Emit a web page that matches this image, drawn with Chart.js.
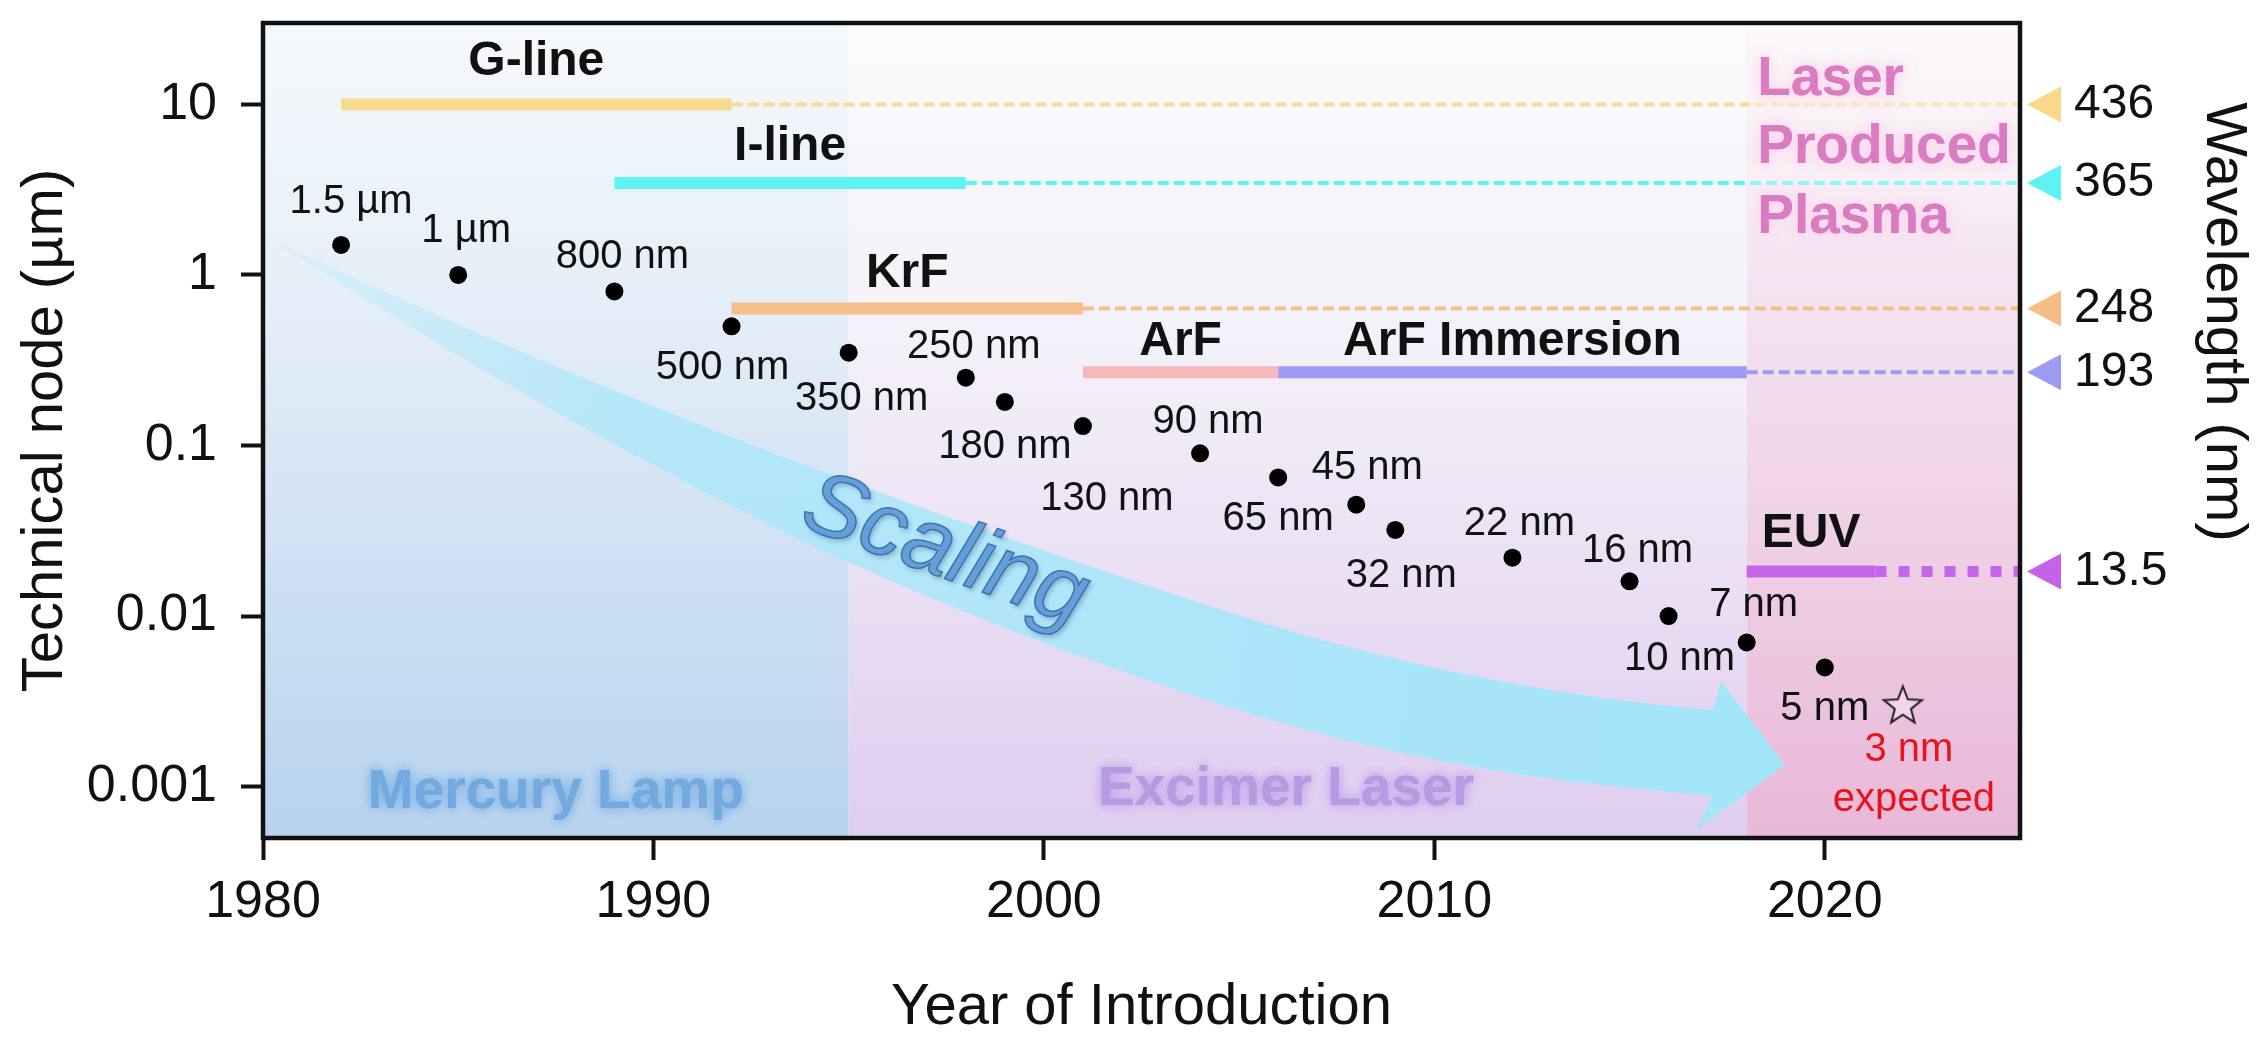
<!DOCTYPE html>
<html>
<head>
<meta charset="utf-8">
<script src="https://cdn.jsdelivr.net/npm/chart.js@4.4.1/dist/chart.umd.min.js"></script>
<style>
html,body{margin:0;padding:0;background:#ffffff;}
#wrap{width:2266px;height:1044px;}
</style>
</head>
<body>
<div id="wrap"><canvas id="c" width="2266" height="1044"></canvas></div>
<script>
// ---------------- DATA ----------------
const nodeYears  = [1982, 1985, 1989, 1992, 1995, 1998, 1999, 2001, 2004, 2006, 2008, 2009, 2012, 2015, 2016, 2018, 2020];
const nodeSizes  = [1.5, 1, 0.8, 0.5, 0.35, 0.25, 0.18, 0.13, 0.09, 0.065, 0.045, 0.032, 0.022, 0.016, 0.01, 0.007, 0.005];
const nodeLabels = ['1.5 µm','1 µm','800 nm','500 nm','350 nm','250 nm','180 nm','130 nm','90 nm','65 nm','45 nm','32 nm','22 nm','16 nm','10 nm','7 nm','5 nm'];

const expectedYears  = [2022];
const expectedSizes  = [0.003];
const expectedLabels = ['3 nm', 'expected'];

const techNames  = ['G-line', 'I-line', 'KrF', 'ArF', 'ArF Immersion', 'EUV'];
const techStart  = [1982, 1989, 1992, 2001, 2006, 2018];
const techEnd    = [1992, 1998, 2001, 2006, 2018, 2021.3];
const techLevel  = [10, 3.46, 0.635, 0.2685, 0.2685, 0.01824];
const techExtend = [true, true, true, false, true, true];

const wavelengthLabels = ['436', '365', '248', '193', '13.5'];
const wavelengthLevel  = [10, 3.46, 0.635, 0.2685, 0.01824];

const yTickValues = [0.001, 0.01, 0.1, 1, 10];
const yTickLabels = ['0.001', '0.01', '0.1', '1', '10'];
const xTickValues = [1980, 1990, 2000, 2010, 2020];

const regionNames = ['Mercury Lamp', 'Excimer Laser', 'Laser Produced Plasma'];
const regionStart = [1980, 1995, 2018];
const regionEnd   = [1995, 2018, 2025];
const regionLabelYears  = [1987.5, 2006.2, 2018.27];
const regionLabelValues = [0.00092, 0.00096, 11.3];
const lppLines = ['Laser', 'Produced', 'Plasma'];
const lppLineValues = [11.3, 4.52, 1.764];

// "Scaling" arrow outline (year, node size)
const arrowYears        = [1980.31, 1983.50, 1987.34, 1991.17, 1995.01, 1998.84, 2002.67, 2006.51, 2010.34, 2014.18, 2017.12];
const arrowTopValues    = [1.584, 0.7261, 0.2989, 0.1316, 0.06111, 0.02996, 0.01490, 0.007808, 0.004684, 0.003302, 0.002809];
const arrowBottomValues = [1.542, 0.5402, 0.1632, 0.05489, 0.02029, 0.008698, 0.004150, 0.002176, 0.001359, 0.001011, 0.0008837];
const arrowHeadYears  = [2017.35, 2018.98, 2016.71];
const arrowHeadValues = [0.00415, 0.001341, 0.000559];
const scalingYear = 1997.46, scalingValue = 0.0238;

// ---------------- STYLES ----------------
const F = "'Liberation Sans', Arial, Helvetica, sans-serif";
const techColors = ['#f8da8e', '#5ef4f4', '#f6bf8a', '#f6b8b8', '#9b9bf3', '#c466ea'];
const wavelengthColors = ['#f8d98a', '#5ff2f2', '#f6bd86', '#9c9cf4', '#c462ea'];
const techLabelDy = [-43, -36, -35, -31, -31, -38];
const labelDx = [10, 8, 8, -9, 13, 8, 0, 24, 8, 0, 11, 6, 7, 8, 11, 7, 0];
const labelDy = [-43, -44, -35, 42, 46, -31, 45, 73, -31, 42, -37, 46, -34, -30, 43, -38, 42];
const regionGradients = [
  [[0, '#f6f9fc'], [0.35, '#e4eef8'], [1, '#b8d3ee']],
  [[0, '#fbfbfd'], [0.4, '#f4f0f9'], [1, '#dfcdef']],
  [[0, '#faf5f9'], [0.45, '#f2dcec'], [1, '#e9b8d8']]
];
const regionTextColors = ['#72aadf', '#b89ae2', '#d97cc2'];
const regionGlowColors = ['rgba(130,180,230,0.9)', 'rgba(195,165,235,0.9)', 'rgba(255,215,240,1)'];

Chart.defaults.font.family = F;
Chart.defaults.color = '#111';

function makeStar() {
  const c = document.createElement('canvas');
  c.width = 46; c.height = 46;
  const g = c.getContext('2d');
  g.beginPath();
  for (let k = 0; k < 10; k++) {
    const r = (k % 2) ? 8.5 : 20;
    const a = -Math.PI / 2 + k * Math.PI / 5;
    g.lineTo(23 + r * Math.cos(a), 24 + r * Math.sin(a));
  }
  g.closePath();
  g.fillStyle = 'rgba(255,255,255,0.3)';
  g.fill();
  g.lineWidth = 2;
  g.strokeStyle = '#222';
  g.stroke();
  return c;
}

// ---------------- DATASETS ----------------
const datasets = [];
techNames.forEach((n, i) => {
  if (!techExtend[i]) return;
  const isEuv = i === 5;
  datasets.push({
    label: n + ' (extension)',
    data: [{x: techEnd[i], y: techLevel[i]}, {x: 2025, y: techLevel[i]}],
    showLine: true, pointRadius: 0, borderColor: techColors[i],
    borderWidth: isEuv ? 11 : 4, borderDash: isEuv ? [11, 12] : [11, 5],
    borderCapStyle: 'butt'
  });
});
techNames.forEach((n, i) => {
  datasets.push({
    label: n,
    data: [{x: techStart[i], y: techLevel[i]}, {x: techEnd[i], y: techLevel[i]}],
    showLine: true, pointRadius: 0, borderColor: techColors[i],
    borderWidth: 12, borderCapStyle: 'butt'
  });
});
const nodeIndex = datasets.length;
datasets.push({
  label: 'Technical node',
  data: nodeYears.map((yr, i) => ({x: yr, y: nodeSizes[i]})),
  pointRadius: 9, pointBackgroundColor: '#000', pointBorderWidth: 0, showLine: false
});
const starIndex = datasets.length;
datasets.push({
  label: 'Expected',
  data: expectedYears.map((yr, i) => ({x: yr, y: expectedSizes[i]})),
  pointStyle: makeStar(), pointRadius: 20, showLine: false
});

// ---------------- PLUGINS ----------------
function smoothTo(ctx, pts) {
  for (let i = 1; i < pts.length - 1; i++) {
    const mx = (pts[i][0] + pts[i + 1][0]) / 2, my = (pts[i][1] + pts[i + 1][1]) / 2;
    ctx.quadraticCurveTo(pts[i][0], pts[i][1], mx, my);
  }
  ctx.lineTo(pts[pts.length - 1][0], pts[pts.length - 1][1]);
}

const backgroundPlugin = {
  id: 'backgroundPlugin',
  beforeDatasetsDraw(chart) {
    const {ctx, chartArea: a, scales: {x, y}} = chart;
    ctx.save();
    ctx.beginPath();
    ctx.rect(a.left, a.top, a.right - a.left, a.bottom - a.top);
    ctx.clip();
    regionStart.forEach((s, i) => {
      const x0 = x.getPixelForValue(s), x1 = x.getPixelForValue(regionEnd[i]);
      const g = ctx.createLinearGradient(0, a.top, 0, a.bottom);
      regionGradients[i].forEach(([o, c]) => g.addColorStop(o, c));
      ctx.fillStyle = g;
      ctx.fillRect(x0, a.top, x1 - x0, a.bottom - a.top);
    });
    ctx.font = 'bold 55px ' + F;
    ctx.textAlign = 'center';
    ctx.textBaseline = 'middle';
    for (let i = 0; i < 2; i++) {
      const px = x.getPixelForValue(regionLabelYears[i]), py = y.getPixelForValue(regionLabelValues[i]);
      ctx.shadowColor = regionGlowColors[i];
      ctx.shadowBlur = 12;
      ctx.fillStyle = regionTextColors[i];
      ctx.fillText(regionNames[i], px, py);
      ctx.fillText(regionNames[i], px, py);
    }
    ctx.shadowColor = 'transparent';
    ctx.shadowBlur = 0;
    const top = arrowYears.map((yr, i) => [x.getPixelForValue(yr), y.getPixelForValue(arrowTopValues[i])]);
    const bot = arrowYears.map((yr, i) => [x.getPixelForValue(yr), y.getPixelForValue(arrowBottomValues[i])]).reverse();
    const head = arrowHeadYears.map((yr, i) => [x.getPixelForValue(yr), y.getPixelForValue(arrowHeadValues[i])]);
    const grad = ctx.createLinearGradient(top[0][0], 0, head[1][0], 0);
    grad.addColorStop(0, 'rgba(175,232,250,0.25)');
    grad.addColorStop(0.25, 'rgba(170,231,250,0.8)');
    grad.addColorStop(1, 'rgba(162,229,249,1)');
    ctx.beginPath();
    ctx.moveTo(top[0][0], top[0][1]);
    smoothTo(ctx, top);
    head.forEach(p => ctx.lineTo(p[0], p[1]));
    ctx.lineTo(bot[0][0], bot[0][1]);
    smoothTo(ctx, bot);
    ctx.closePath();
    ctx.fillStyle = grad;
    ctx.fill();
    const sx = x.getPixelForValue(scalingYear), sy = y.getPixelForValue(scalingValue);
    ctx.save();
    ctx.translate(sx, sy);
    ctx.rotate(20 * Math.PI / 180);
    ctx.font = 'italic 90px ' + F;
    ctx.textAlign = 'center';
    ctx.textBaseline = 'middle';
    ctx.shadowColor = 'rgba(40,70,120,0.35)';
    ctx.shadowBlur = 5;
    ctx.shadowOffsetX = 2;
    ctx.shadowOffsetY = 3;
    ctx.fillStyle = '#64a0d7';
    ctx.fillText('Scaling', 0, 0);
    ctx.shadowColor = 'transparent';
    ctx.lineWidth = 1.5;
    ctx.strokeStyle = '#3c74ae';
    ctx.strokeText('Scaling', 0, 0);
    ctx.restore();
    ctx.restore();
  }
};

const labelPlugin = {
  id: 'labelPlugin',
  afterDatasetsDraw(chart) {
    const {ctx, chartArea: a, scales: {x, y}} = chart;
    ctx.save();
    const lx = x.getPixelForValue(regionStart[2]);
    const yb = y.getPixelForValue(1.4);
    const og = ctx.createLinearGradient(0, a.top, 0, yb);
    og.addColorStop(0, 'rgba(255,253,254,0.45)');
    og.addColorStop(0.7, 'rgba(255,253,254,0.3)');
    og.addColorStop(1, 'rgba(255,253,254,0)');
    ctx.fillStyle = og;
    ctx.fillRect(lx + 2, a.top, a.right - lx - 2, yb - a.top);
    ctx.font = 'bold 55px ' + F;
    ctx.textAlign = 'left';
    ctx.textBaseline = 'alphabetic';
    const llx = x.getPixelForValue(regionLabelYears[2]);
    lppLines.forEach((t, i) => {
      ctx.shadowColor = regionGlowColors[2];
      ctx.shadowBlur = 14;
      ctx.fillStyle = regionTextColors[2];
      ctx.fillText(t, llx, y.getPixelForValue(lppLineValues[i]));
      ctx.fillText(t, llx, y.getPixelForValue(lppLineValues[i]));
    });
    ctx.shadowColor = 'transparent';
    ctx.shadowBlur = 0;
    ctx.font = 'bold 48px ' + F;
    ctx.textAlign = 'center';
    ctx.textBaseline = 'middle';
    ctx.fillStyle = '#111';
    techNames.forEach((n, i) => {
      const cx = (x.getPixelForValue(techStart[i]) + x.getPixelForValue(techEnd[i])) / 2;
      ctx.fillText(n, cx, y.getPixelForValue(techLevel[i]) + techLabelDy[i]);
    });
    ctx.font = '40px ' + F;
    const meta = chart.getDatasetMeta(nodeIndex);
    meta.data.forEach((pt, i) => {
      ctx.fillText(nodeLabels[i], pt.x + labelDx[i], pt.y + labelDy[i]);
    });
    const sp = chart.getDatasetMeta(starIndex).data[0];
    ctx.fillStyle = '#e8141c';
    ctx.fillText(expectedLabels[0], sp.x + 6, sp.y + 45);
    ctx.fillText(expectedLabels[1], sp.x + 11, sp.y + 95);
    ctx.lineWidth = 4.5;
    ctx.strokeStyle = '#111';
    ctx.strokeRect(a.left, a.top, a.right - a.left, a.bottom - a.top);
    ctx.restore();
  },
  afterDraw(chart) {
    const {ctx, chartArea: a, scales: {y2}} = chart;
    ctx.save();
    wavelengthLevel.forEach((v, i) => {
      const py = y2.getPixelForValue(v);
      ctx.beginPath();
      ctx.moveTo(a.right + 7, py);
      ctx.lineTo(a.right + 41, py - 18);
      ctx.lineTo(a.right + 41, py + 18);
      ctx.closePath();
      ctx.fillStyle = wavelengthColors[i];
      ctx.fill();
    });
    ctx.translate(2223, 322);
    ctx.rotate(Math.PI / 2);
    ctx.font = '58px ' + F;
    ctx.textAlign = 'center';
    ctx.textBaseline = 'middle';
    ctx.fillStyle = '#111';
    ctx.fillText('Wavelength (nm)', 0, 0);
    ctx.restore();
  }
};

function noPad(s) { s.paddingTop = 0; s.paddingBottom = 0; s.paddingLeft = 0; s.paddingRight = 0; }

// ---------------- CHART ----------------
new Chart(document.getElementById('c'), {
  type: 'scatter',
  data: {datasets},
  options: {
    responsive: false,
    animation: false,
    devicePixelRatio: 1,
    layout: {padding: {top: 23, left: 0, right: 0, bottom: 0}},
    plugins: {legend: {display: false}, tooltip: {enabled: false}},
    scales: {
      x: {
        type: 'linear', min: 1980, max: 2025,
        afterBuildTicks: s => { s.ticks = xTickValues.map(v => ({value: v})); },
        afterFit: s => { s.height = 206; noPad(s); },
        grid: {display: true, drawOnChartArea: false, drawTicks: true, tickLength: 22, tickWidth: 4, tickColor: '#111'},
        border: {display: false},
        ticks: {font: {size: 52}, color: '#111', padding: 11, autoSkip: false, maxRotation: 0, callback: v => String(v)},
        title: {display: true, text: 'Year of Introduction', font: {size: 58}, color: '#111', padding: {top: 0, bottom: 1}}
      },
      y: {
        type: 'logarithmic', position: 'left', min: 0.0005, max: 30,
        afterBuildTicks: s => { s.ticks = yTickValues.map(v => ({value: v})); },
        afterFit: s => { s.width = 263; noPad(s); },
        grid: {display: true, drawOnChartArea: false, drawTicks: true, tickLength: 22, tickWidth: 4, tickColor: '#111'},
        border: {display: false},
        ticks: {font: {size: 52}, color: '#111', padding: 24, autoSkip: false, callback: (v, i) => yTickLabels[i]},
        title: {display: true, text: 'Technical node (µm)', font: {size: 58}, color: '#111', padding: {top: 11, bottom: 0}}
      },
      y2: {
        type: 'logarithmic', position: 'right', min: 0.0005, max: 30,
        afterBuildTicks: s => { s.ticks = wavelengthLevel.map(v => ({value: v})); },
        afterFit: s => { s.width = 246; noPad(s); },
        grid: {display: false, drawOnChartArea: false, drawTicks: false},
        border: {display: false},
        ticks: {font: {size: 48}, color: '#111', padding: 54, autoSkip: false, callback: (v, i) => wavelengthLabels[i]}
      }
    }
  },
  plugins: [backgroundPlugin, labelPlugin]
});
</script>
</body>
</html>
